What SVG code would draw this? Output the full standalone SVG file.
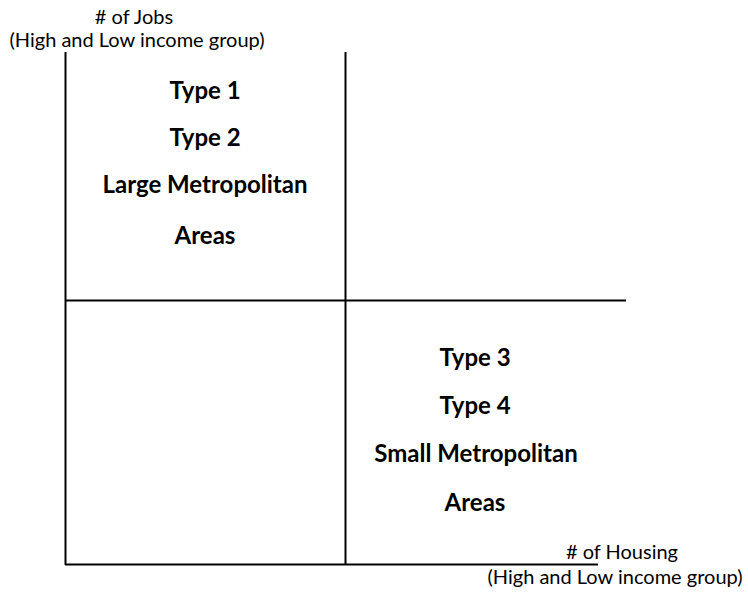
<svg xmlns="http://www.w3.org/2000/svg" width="748" height="593" viewBox="0 0 748 593">
<style>
.ax{font-family:Lato,"Liberation Sans",sans-serif;font-size:20px;fill:#000}
.lb{font-family:Lato,"Liberation Sans",sans-serif;font-size:24px;font-weight:bold;fill:#000}
.ln{stroke:#000;stroke-width:2;fill:none}
</style>
<rect width="748" height="593" fill="#fff"/>
<g id="connectors">
<line class="ln" x1="65.5" y1="52" x2="65.5" y2="565"/>
<line class="ln" x1="345.5" y1="52" x2="345.5" y2="565"/>
<line class="ln" x1="65" y1="300.5" x2="626" y2="300.5"/>
<line class="ln" x1="65" y1="564.5" x2="598" y2="564.5"/>
</g>
<g id="y-axis-label">
<text class="ax" x="134" y="24" text-anchor="middle"># of Jobs</text>
<text class="ax" x="137" y="47" text-anchor="middle">(High and Low income group)</text>
</g>
<g id="x-axis-label">
<text class="ax" x="622" y="559" text-anchor="middle"># of Housing</text>
<text class="ax" x="615" y="584" text-anchor="middle">(High and Low income group)</text>
</g>
<g id="quadrant-top-left">
<text class="lb" x="205" y="99" text-anchor="middle">Type 1</text>
<text class="lb" x="205" y="146" text-anchor="middle">Type 2</text>
<text class="lb" x="205" y="193" text-anchor="middle">Large Metropolitan</text>
<text class="lb" x="205" y="244" text-anchor="middle">Areas</text>
</g>
<g id="quadrant-bottom-right">
<text class="lb" x="475" y="366" text-anchor="middle">Type 3</text>
<text class="lb" x="475" y="414" text-anchor="middle">Type 4</text>
<text class="lb" x="476" y="462" text-anchor="middle">Small Metropolitan</text>
<text class="lb" x="475" y="511" text-anchor="middle">Areas</text>
</g>
</svg>
